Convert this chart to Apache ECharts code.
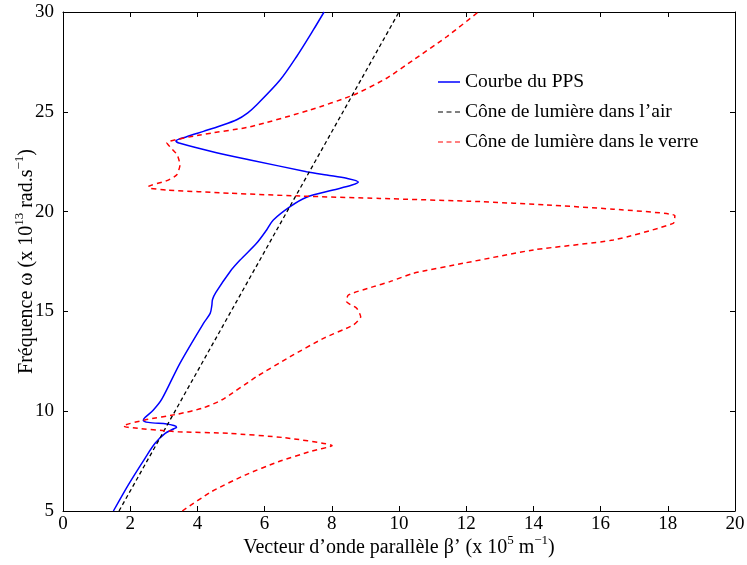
<!DOCTYPE html>
<html><head><meta charset="utf-8">
<script src="https://cdn.jsdelivr.net/npm/echarts@6/dist/echarts.min.js"></script>
<style>html,body{margin:0;padding:0;background:#fff}#c{width:747px;height:565px}</style>
</head><body><div id="c"></div>
<script>
// Courbe du PPS: [beta (x1e5 m^-1), omega (x1e13 rad/s)]
const ppsBeta  = [1.50,1.94,2.44,2.74,3.04,3.30,3.38,3.30,3.09,2.54,2.39,2.44,2.69,2.94,3.48,4.18,4.38,4.43,4.45,4.55,4.97,5.27,5.76,6.06,6.26,6.76,7.25,8.04,8.60,8.79,8.44,7.85,7.25,5.57,4.57,3.48,3.36,3.68,4.18,4.67,5.17,5.50,5.76,6.46,6.95,7.45,7.77];
const ppsOmega = [5.00,6.30,7.64,8.39,8.89,9.12,9.20,9.28,9.36,9.44,9.54,9.68,10.06,10.60,12.40,14.40,14.90,15.30,15.60,15.95,16.99,17.57,18.41,19.08,19.58,20.25,20.72,21.08,21.33,21.48,21.67,21.83,22.00,22.59,22.95,23.42,23.54,23.75,24.02,24.29,24.60,24.95,25.34,26.59,27.76,29.10,30.00];
// Cône de lumière dans l'air
const airBeta  = [1.667,10.0];
const airOmega = [5.0,30.0];
// Cône de lumière dans le verre
const verreBeta  = [3.55,4.42,5.42,6.41,7.40,8.01,6.61,4.92,3.43,1.94,1.79,2.44,3.43,4.13,4.72,5.76,6.76,7.75,8.64,8.86,8.74,8.44,8.49,9.24,9.73,10.43,11.91,14.00,16.38,18.16,18.21,16.38,14.40,12.41,9.43,7.05,4.97,3.09,2.59,2.54,3.09,3.38,3.48,3.40,3.18,3.09,4.08,5.57,7.35,8.64,9.63,10.43,11.42,12.36];
const verreOmega = [5.00,5.97,6.80,7.47,8.00,8.27,8.67,8.89,8.97,9.19,9.26,9.56,9.86,10.14,10.56,11.73,12.73,13.65,14.32,14.73,15.16,15.49,15.82,16.24,16.49,16.91,17.41,18.08,18.58,19.41,19.80,20.12,20.33,20.50,20.66,20.78,20.92,21.08,21.17,21.25,21.55,21.83,22.33,22.84,23.25,23.45,23.84,24.25,25.09,25.84,26.68,27.60,28.76,30.00];
const xTicks = [0,2,4,6,8,10,12,14,16,18,20];
const yTicks = [5,10,15,20,25,30];

const zip = (a,b)=>a.map((v,i)=>[v,b[i]]);
const FONT = 'Liberation Serif';
const chart = echarts.init(document.getElementById('c'));
const axisCommon = {
  axisLine:{show:true,onZero:false,lineStyle:{color:'#000',width:1}},
  axisTick:{show:true,inside:true,length:5,lineStyle:{color:'#000'}},
  splitLine:{show:false}
};
const supRich = {
  base:{fontFamily:FONT,fontSize:20,color:'#000',lineHeight:28},
  sup:{fontFamily:FONT,fontSize:13,color:'#000',verticalAlign:'top',lineHeight:12}
};
const solidIcon = 'path://M0,0h22v1.5h-22z';
const dashIcon = 'path://M0,0h5v1.2h-5z M8.5,0h5v1.2h-5z M17,0h5v1.2h-5z';
chart.setOption({
  animation:false,
  grid:{left:63,right:12,top:12,bottom:54,containLabel:false,outerBoundsMode:'none'},
  legend:{
    orient:'vertical',left:433,top:67,itemWidth:22,itemHeight:2,itemGap:10,
    textStyle:{fontFamily:FONT,fontSize:19.5,color:'#000',lineHeight:20},
    data:[{name:'Courbe du PPS',icon:solidIcon},
          {name:'Cône de lumière dans l’air',icon:dashIcon},
          {name:'Cône de lumière dans le verre',icon:dashIcon}]
  },
  xAxis:[
    Object.assign({type:'value',min:0,max:20,interval:2,position:'bottom',
      axisLabel:{fontFamily:FONT,fontSize:19,color:'#000',margin:4},
      name:'{base|Vecteur d’onde parallèle β’ (x 10}{sup|5}{base| m}{sup|−1}{base|)}',
      nameLocation:'middle',nameGap:23,nameMoveOverlap:false,nameTextStyle:{rich:supRich}},axisCommon),
    Object.assign({type:'value',min:0,max:20,interval:2,position:'top',axisLabel:{show:false}},axisCommon)
  ],
  yAxis:[
    Object.assign({type:'value',min:5,max:30,interval:5,position:'left',
      axisLabel:{fontFamily:FONT,fontSize:19,color:'#000',margin:9},
      name:'{base|Fréquence ω (x 10}{sup|13}{base| rad.s}{sup|−1}{base|)}',
      nameLocation:'middle',nameGap:22,nameMoveOverlap:false,nameTextStyle:{rich:supRich}},axisCommon),
    Object.assign({type:'value',min:5,max:30,interval:5,position:'right',axisLabel:{show:false}},axisCommon)
  ],
  series:[
    {name:'Courbe du PPS',type:'line',data:zip(ppsBeta,ppsOmega),showSymbol:false,symbol:'none',smooth:0.3,
     lineStyle:{color:'#0000ff',width:1.5},itemStyle:{color:'#0000ff'}},
    {name:'Cône de lumière dans l’air',type:'line',data:zip(airBeta,airOmega),showSymbol:false,symbol:'none',
     lineStyle:{color:'#000',width:1.3,type:[4,3]},itemStyle:{color:'#000'}},
    {name:'Cône de lumière dans le verre',type:'line',data:zip(verreBeta,verreOmega),showSymbol:false,symbol:'none',smooth:0.2,
     lineStyle:{color:'#ff0000',width:1.5,type:[5,4]},itemStyle:{color:'#ff0000'}}
  ]
});
</script></body></html>
